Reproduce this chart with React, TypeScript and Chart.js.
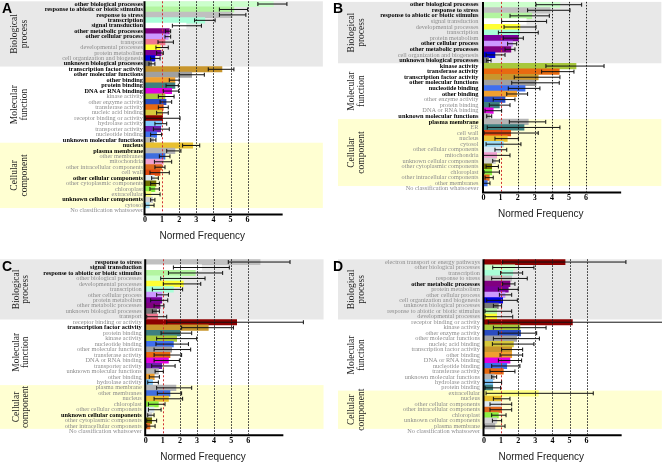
import React, { useEffect, useRef } from "react";
import { Chart, registerables } from "chart.js";
Chart.register(...registerables);

// ---------------- shared ----------------
const X_MAX = 10.4;
const X_TICK_LABELS = [0, 1, 2, 3, 4, 5, 6];
const AXIS_END = 8.05;
const GROUP_TITLES = [["Biological", "process"], ["Molecular", "function"], ["Cellular", "component"]];

// ---------------- Panel A ----------------
const A_CATEGORIES = [
  "other biological processes", "response to abiotic or biotic stimulus", "response to stress", "transcription",
  "signal transduction", "other metabolic processes", "other cellular process", "transport",
  "developmental processes", "protein metabolism", "cell organization and biogenesis", "unknown biological processes",
  "transcription factor activity", "other molecular functions", "other binding", "protein binding",
  "DNA or RNA binding", "kinase activity", "other enzyme activity", "transferase activity",
  "nucleic acid binding", "receptor binding or activity", "hydrolase activity", "transporter activity",
  "nucleotide binding", "unknown molecular functions",
  "nucleus", "plasma membrane", "other membranes", "mitochondria", "other intracellular components", "cell wall",
  "other cellular components", "other cytoplasmic components", "chloroplast", "extracellular",
  "unknown cellular components", "cytosol", "No classification whatsoever",
];
const A_VALUES = [7.5, 5.2, 5.1, 3.5, 2.4, 1.42, 1.36, 1.17, 0.88, 0.94, 0.58, 0.39,
  4.5, 2.73, 1.75, 1.75, 1.56, 1.17, 1.23, 1.07, 1.03, 1.03, 0.97, 0.92, 0.68, 0.5,
  2.79, 1.75, 1.17, 1.07, 0.97, 0.88, 0.55, 0.64, 0.58, 0.35, 0.45, 0.25, 0];
const A_LOW = [6.6, 4.35, 4.35, 2.9, 1.6, 1.2, 1.17, 0.76, 0.64, 0.68, 0.33, 0.23,
  3.7, 2.0, 1.42, 1.23, 1.07, 0.78, 0.88, 0.78, 0.68, 0.02, 0.58, 0.49, 0.33, 0.33,
  2.2, 1.27, 0.84, 0.55, 0.58, 0.29, 0.39, 0.33, 0.29, 0.0, 0.33, 0.0, null];
const A_HIGH = [8.3, 6.0, 5.9, 4.1, 3.3, 1.5, 1.5, 1.66, 1.36, 1.07, 0.88, 0.58,
  5.2, 3.47, 2.0, 1.95, 1.97, 1.7, 1.56, 1.36, 1.36, 2.05, 1.27, 1.42, 0.97, 0.64,
  3.2, 2.1, 1.46, 1.56, 1.17, 1.42, 0.78, 0.84, 0.84, 0.88, 0.58, 0.53, null];
const A_BOLD = ["other biological processes", "response to abiotic or biotic stimulus", "response to stress",
  "transcription", "signal transduction", "other metabolic processes", "other cellular process",
  "unknown biological processes", "transcription factor activity", "other molecular functions", "other binding",
  "protein binding", "DNA or RNA binding", "unknown molecular functions", "nucleus", "plasma membrane",
  "other cellular components", "unknown cellular components"];
const A_GROUP_SIZES = [12, 14, 12];

// ---------------- Panel B ----------------
const B_CATEGORIES = [
  "other biological processes", "response to stress", "response to abiotic or biotic stimulus", "signal transduction",
  "developmental processes", "transcription", "protein metabolism", "other cellular process",
  "other metabolic processes", "cell organization and biogenesis", "unknown biological processes",
  "kinase activity", "transferase activity", "transcription factor activity", "other molecular functions",
  "nucleotide binding", "other binding", "other enzyme activity", "protein binding", "DNA or RNA binding",
  "unknown molecular functions",
  "plasma membrane", "ER", "cell wall", "nucleus", "cytosol", "other cellular components", "mitochondria",
  "unknown cellular components", "other cytoplasmic components", "chloroplast", "other intracellular components",
  "other membranes", "No classification whatsoever",
];
const B_VALUES = [4.47, 3.9, 2.82, 2.5, 2.13, 2.1, 2.04, 1.7, 1.6, 0.67, 0.3,
  5.41, 4.43, 3.2, 3.07, 2.43, 1.94, 1.26, 0.93, 0.57, 0.38,
  2.62, 2.37, 1.59, 1.39, 1.16, 1.0, 0.77, 0.7, 0.48, 0.48, 0.34, 0.22, 0];
const B_LOW = [3.07, 2.58, 1.55, 1.06, 1.2, 0.87, 1.16, 1.41, 1.26, 0.15, 0.19,
  3.65, 3.4, 1.8, 1.65, 1.45, 1.36, 0.57, 0.34, 0.09, 0.19,
  1.51, 0.22, 0.03, 0.67, 0.15, 0.67, 0.0, 0.54, 0.15, 0.03, 0.09, 0.0, null];
const B_HIGH = [5.74, 5.06, 3.85, 3.69, 3.07, 3.2, 2.33, 1.94, 1.84, 1.26, 0.44,
  7.05, 5.29, 4.47, 4.43, 3.3, 2.58, 1.84, 1.55, 1.06, 0.48,
  3.64, 4.47, 3.2, 2.04, 2.19, 1.36, 1.55, 0.93, 0.87, 0.93, 0.57, 0.38, null];
const B_BOLD = ["other biological processes", "response to stress", "response to abiotic or biotic stimulus",
  "other cellular process", "other metabolic processes", "unknown biological processes", "kinase activity",
  "transferase activity", "transcription factor activity", "other molecular functions", "nucleotide binding",
  "other binding", "unknown molecular functions", "plasma membrane"];
const B_GROUP_SIZES = [11, 10, 12];

// ---------------- Panel C ----------------
const C_CATEGORIES = [
  "response to stress", "signal transduction", "response to abiotic or biotic stimulus", "other biological processes",
  "developmental processes", "transcription", "other cellular process", "protein metabolism",
  "other metabolic processes", "unknown biological processes", "transport",
  "receptor binding or activity", "transcription factor activity", "protein binding", "kinase activity",
  "nucleotide binding", "other molecular functions", "transferase activity", "DNA or RNA binding",
  "transporter activity", "unknown molecular functions", "other binding", "hydrolase activity",
  "plasma membrane", "other membranes", "nucleus", "chloroplast", "other cellular components",
  "unknown cellular components", "other cytoplasmic components", "other intracellular components",
  "No classification whatsoever",
];
const C_VALUES = [6.69, 3.27, 2.9, 2.1, 2.2, 1.62, 0.95, 0.94, 0.84, 0.64, 0.7,
  5.32, 3.66, 2.0, 1.81, 1.62, 1.52, 1.42, 1.33, 0.94, 0.75, 0.5, 0.4,
  1.77, 1.42, 1.33, 0.74, 0.49, 0.35, 0.35, 0.25, 0];
const C_LOW = [4.83, 1.62, 1.33, 0.88, 1.03, 0.39, 0.64, 0.29, 0.49, 0.39, 0.06,
  1.23, 2.1, 0.9, 0.64, 0.6, 0.49, 0.49, 0.49, 0.35, 0.55, 0.21, 0.12,
  0.64, 0.68, 0.49, 0.16, 0.16, 0.12, 0.06, 0.06, null];
const C_HIGH = [8.44, 4.89, 4.5, 3.47, 3.22, 2.16, 1.33, 1.29, 1.07, 0.8, 1.23,
  9.22, 5.13, 2.69, 2.98, 2.5, 2.63, 2.1, 1.97, 1.72, 1.03, 0.8, 0.74,
  2.69, 2.1, 2.16, 1.13, 0.9, 0.49, 0.64, 0.55, null];
const C_BOLD = ["response to stress", "signal transduction", "response to abiotic or biotic stimulus",
  "transcription factor activity", "unknown cellular components"];
const C_GROUP_SIZES = [11, 12, 8];

// ---------------- Panel D ----------------
const D_CATEGORIES = [
  "electron transport or energy pathways", "other biological processes", "transcription", "response to stress",
  "other metabolic processes", "protein metabolism", "other cellular process", "cell organization and biogenesis",
  "unknown biological processes", "response to abiotic or biotic stimulus", "developmental processes",
  "receptor binding or activity", "kinase activity", "other enzyme activity", "other molecular functions",
  "nucleic acid binding", "transcription factor activity", "other binding", "DNA or RNA binding",
  "nucleotide binding", "transferase activity", "unknown molecular functions", "hydrolase activity",
  "protein binding",
  "extracellular", "nucleus", "other cellular components", "other intracellular components", "chloroplast",
  "unknown cellular components", "plasma membrane", "No classification whatsoever",
];
const D_VALUES = [4.74, 1.8, 1.68, 1.62, 1.52, 1.42, 1.23, 1.09, 0.84, 0.74, 0.74,
  5.17, 2.1, 2.14, 1.91, 1.72, 1.62, 1.62, 1.52, 1.33, 1.13, 0.6, 0.51, 0.51,
  3.18, 1.0, 1.0, 1.03, 0.84, 0.75, 0.64, 0];
const D_LOW = [1.09, 0.51, 0.97, 0.45, 1.09, 0.84, 0.9, 0.16, 0.55, 0.06, 0.06,
  0.25, 0.55, 0.84, 0.55, 0.49, 1.03, 0.94, 0.84, 0.45, 0.35, 0.45, 0.0, 0.06,
  0.12, 0.55, 0.35, 0.35, 0.45, 0.49, 0.0, null];
const D_HIGH = [8.3, 2.92, 2.26, 2.53, 1.81, 2.0, 1.62, 1.95, 1.03, 1.62, 1.68,
  10.6, 3.63, 3.08, 3.24, 2.92, 2.26, 2.26, 2.2, 2.1, 1.81, 0.74, 1.03, 0.97,
  6.39, 1.52, 1.62, 1.62, 1.29, 1.03, 1.23, null];
const D_BOLD = ["other metabolic processes"];
const D_GROUP_SIZES = [11, 13, 7];

// ---------------- styles ----------------
const CATEGORY_COLORS: Record<string, string> = {
  "other biological processes": "#ccffcc",
  "response to abiotic or biotic stimulus": "#b3f5a0",
  "response to stress": "#c0c0c0",
  "transcription": "#a8ffd8",
  "signal transduction": "#ffffff",
  "other metabolic processes": "#800080",
  "other cellular process": "#cc99ff",
  "transport": "#f07890",
  "developmental processes": "#ffff33",
  "protein metabolism": "#7a0099",
  "cell organization and biogenesis": "#0000dd",
  "unknown biological processes": "#777777",
  "electron transport or energy pathways": "#8b0000",
  "transcription factor activity": "#c8962d",
  "other molecular functions": "#a0a0a0",
  "other binding": "#f0a030",
  "protein binding": "#3f7f80",
  "DNA or RNA binding": "#e000e0",
  "kinase activity": "#a8c83c",
  "other enzyme activity": "#2a4cc0",
  "transferase activity": "#e86a10",
  "nucleic acid binding": "#d6c83c",
  "receptor binding or activity": "#8b0000",
  "hydrolase activity": "#80c8ff",
  "transporter activity": "#7020b0",
  "nucleotide binding": "#3f6fef",
  "unknown molecular functions": "#b4b4b4",
  "nucleus": "#e8c030",
  "plasma membrane": "#b4b4b4",
  "ER": "#3f8080",
  "cell wall": "#e04a10",
  "cytosol": "#9fdcf5",
  "other membranes": "#3f6fdf",
  "mitochondria": "#f0a0d0",
  "other intracellular components": "#e06a20",
  "other cellular components": "#dce8f0",
  "other cytoplasmic components": "#707000",
  "chloroplast": "#8cf040",
  "extracellular": "#ffff80",
  "unknown cellular components": "#d2d2d2",
  "No classification whatsoever": "#ffffff",
};
const BAND_COLORS = ["#e8e8e8", "rgba(255,255,255,0)", "#ffffd2"];
const SERIF = "'Liberation Serif', 'Times New Roman', serif";
const SANS = "'Liberation Sans', Arial, sans-serif";

const PANELS = [
  { letter: "A", cats: A_CATEGORIES, vals: A_VALUES, low: A_LOW, high: A_HIGH, bold: A_BOLD, groups: A_GROUP_SIZES,
    x: 0, y: 0, w: 331, h: 250, axisX: 145, top: 1.3, pitch: 5.44, tickPad: 2, groupX: [14, 24], bandLeft: 0 },
  { letter: "B", cats: B_CATEGORIES, vals: B_VALUES, low: B_LOW, high: B_HIGH, bold: B_BOLD, groups: B_GROUP_SIZES,
    x: 331, y: 0, w: 331, h: 250, axisX: 152.5, top: 1.9, pitch: 5.58, tickPad: 5, groupX: [20, 30], bandLeft: 7 },
  { letter: "C", cats: C_CATEGORIES, vals: C_VALUES, low: C_LOW, high: C_HIGH, bold: C_BOLD, groups: C_GROUP_SIZES,
    x: 0, y: 250, w: 331, h: 213, axisX: 145.7, top: 9.3, pitch: 5.47, tickPad: 4, groupX: [16, 25], bandLeft: 0 },
  { letter: "D", cats: D_CATEGORIES, vals: D_VALUES, low: D_LOW, high: D_HIGH, bold: D_BOLD, groups: D_GROUP_SIZES,
    x: 331, y: 250, w: 331, h: 213, axisX: 153, top: 9.3, pitch: 5.47, tickPad: 4, groupX: [20, 30], bandLeft: 7 },
];
const UNIT_PX = 17.1;

function makeDecor(p: any) {
  return {
    id: "decor" + p.letter,
    beforeDraw(chart: any) {
      const ctx = chart.ctx;
      const area = chart.chartArea;
      const ys = chart.scales.y;
      const half = (ys.getPixelForValue(1) - ys.getPixelForValue(0)) / 2;
      ctx.save();
      let start = 0;
      p.groups.forEach((size: number, g: number) => {
        const y0 = ys.getPixelForValue(start) - half;
        const y1 = ys.getPixelForValue(start + size - 1) + half;
        ctx.fillStyle = BAND_COLORS[g];
        ctx.fillRect(p.bandLeft, y0, area.right - p.bandLeft, y1 - y0);
        const yc = (y0 + y1) / 2;
        ctx.fillStyle = "#222";
        ctx.font = `9.5px ${SERIF}`;
        ctx.textAlign = "center";
        ctx.textBaseline = "middle";
        GROUP_TITLES[g].forEach((t, k) => {
          ctx.save();
          ctx.translate(p.groupX[k], yc);
          ctx.rotate(-Math.PI / 2);
          ctx.fillText(t, 0, 0);
          ctx.restore();
        });
        start += size;
      });
      ctx.fillStyle = "#000";
      ctx.font = `bold 14px ${SANS}`;
      ctx.textAlign = "left";
      ctx.textBaseline = "top";
      ctx.fillText(p.letter, 2, area.top + 0.5);
      ctx.restore();
    },
    afterDatasetsDraw(chart: any) {
      const ctx = chart.ctx;
      const area = chart.chartArea;
      const xs = chart.scales.x;
      const ys = chart.scales.y;
      ctx.save();
      // dotted reference lines
      ctx.lineWidth = 1;
      X_TICK_LABELS.filter((v) => v > 0).forEach((v) => {
        const px = Math.round(xs.getPixelForValue(v)) + 0.5;
        ctx.strokeStyle = v === 1 ? "#d03030" : "#222";
        ctx.setLineDash(v === 1 ? [2, 2] : [1.5, 1.5]);
        ctx.beginPath();
        ctx.moveTo(px, area.top);
        ctx.lineTo(px, area.bottom);
        ctx.stroke();
      });
      ctx.setLineDash([]);
      // error bars
      ctx.strokeStyle = "#111";
      ctx.lineWidth = 1;
      p.vals.forEach((_: number, i: number) => {
        const lo = p.low[i];
        const hi = p.high[i];
        if (lo == null || hi == null) return;
        const py = ys.getPixelForValue(i);
        const x0 = xs.getPixelForValue(lo);
        const x1 = xs.getPixelForValue(hi);
        ctx.beginPath();
        ctx.moveTo(x0, py);
        ctx.lineTo(x1, py);
        ctx.moveTo(x0, py - 2);
        ctx.lineTo(x0, py + 2);
        ctx.moveTo(x1, py - 2);
        ctx.lineTo(x1, py + 2);
        ctx.stroke();
      });
      // axis lines
      ctx.strokeStyle = "#000";
      ctx.lineWidth = 2;
      ctx.beginPath();
      ctx.moveTo(area.left - 0.5, area.top);
      ctx.lineTo(area.left - 0.5, area.bottom + 2);
      ctx.moveTo(area.left - 1.5, area.bottom + 1);
      ctx.lineTo(xs.getPixelForValue(AXIS_END), area.bottom + 1);
      ctx.stroke();
      // axis title
      ctx.fillStyle = "#222";
      ctx.font = `10px ${SANS}`;
      ctx.textAlign = "center";
      ctx.textBaseline = "middle";
      ctx.fillText("Normed Frequency", xs.getPixelForValue(3.35), area.bottom + 23);
      ctx.restore();
    },
  };
}

function Panel({ p }: { p: any }) {
  const ref = useRef<HTMLCanvasElement>(null);
  useEffect(() => {
    const chartBottom = p.top + p.cats.length * p.pitch;
    const chartRight = p.axisX + X_MAX * UNIT_PX;
    const boldSet = new Set(p.bold);
    const chart = new Chart(ref.current as HTMLCanvasElement, {
      type: "bar",
      data: {
        labels: p.cats,
        datasets: [
          {
            data: p.vals,
            backgroundColor: p.cats.map((c: string) => CATEGORY_COLORS[c]),
            borderWidth: 0,
            barPercentage: 1,
            categoryPercentage: 1,
          },
        ],
      },
      options: {
        indexAxis: "y",
        responsive: false,
        animation: false,
        devicePixelRatio: 1,
        layout: { padding: { top: p.top, right: p.w - chartRight, bottom: 0, left: 0 } },
        plugins: { legend: { display: false }, tooltip: { enabled: false }, title: { display: false } },
        scales: {
          x: {
            type: "linear",
            min: 0,
            max: X_MAX,
            grid: { display: false, drawTicks: false },
            border: { display: false },
            ticks: {
              stepSize: 1,
              autoSkip: false,
              maxRotation: 0,
              padding: 2,
              color: "#000",
              font: { family: SERIF, size: 8, weight: "bold" },
              callback: (v: any) => (X_TICK_LABELS.includes(v) ? String(v) : ""),
            },
            afterFit: (s: any) => {
              s.height = p.h - chartBottom;
              s.paddingLeft = 0;
              s.paddingRight = 0;
            },
          },
          y: {
            type: "category",
            grid: { display: false, drawTicks: false },
            border: { display: false },
            ticks: {
              autoSkip: false,
              padding: p.tickPad,
              color: (c: any) => (boldSet.has(p.cats[c.index]) ? "#000" : "#8c8c8c"),
              font: (c: any) => ({
                family: SERIF,
                size: 6.3,
                weight: boldSet.has(p.cats[c.index]) ? "bold" : "normal",
              }),
            },
            afterFit: (s: any) => {
              s.width = p.axisX;
              s.paddingTop = 0;
              s.paddingBottom = 0;
            },
          },
        },
      },
      plugins: [makeDecor(p)],
    } as any);
    return () => chart.destroy();
  }, []);
  return (
    <canvas
      ref={ref}
      width={p.w}
      height={p.h}
      style={{ position: "absolute", left: p.x, top: p.y, width: p.w, height: p.h }}
    />
  );
}

export default function App() {
  return (
    <div style={{ position: "fixed", left: 0, top: 0, width: 662, height: 463, background: "#fff", overflow: "hidden" }}>
      {PANELS.map((p) => (
        <Panel key={p.letter} p={p} />
      ))}
    </div>
  );
}
